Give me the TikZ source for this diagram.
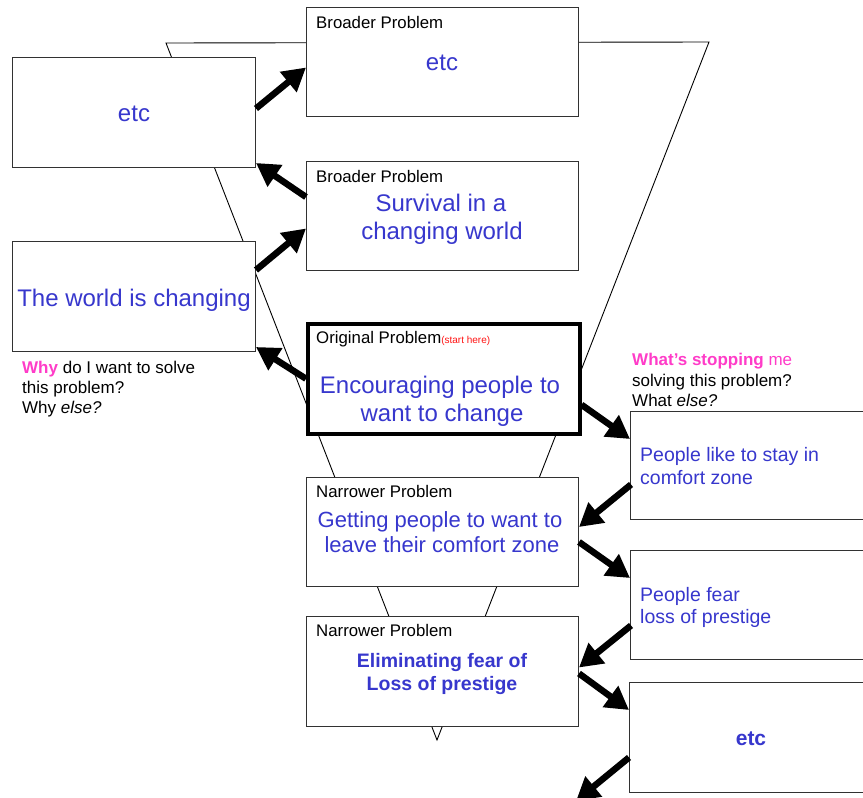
\documentclass[tikz,border=0pt]{standalone}
\usepackage{fontspec}
\setmainfont{Liberation Sans}
\usetikzlibrary{arrows.meta}
\definecolor{tblue}{RGB}{55,55,205}
\definecolor{tpink}{RGB}{255,60,200}
\definecolor{tred}{RGB}{255,20,20}
\definecolor{bordergray}{RGB}{50,50,50}
\newcommand\fsz[2]{\fontsize{#1}{#2}\selectfont}
\begin{document}
\begin{tikzpicture}[x=1pt,y=-1pt,
  box/.style={draw=bordergray,fill=white,line width=1pt,anchor=north west,inner sep=0pt,minimum width=272pt,minimum height=110pt},
  sbox/.style={box,minimum width=243pt},
  rbox/.style={box,minimum width=260pt},
  lbl/.style={anchor=base west,inner sep=0pt,font=\fsz{16.8}{19}},
  bigc/.style={anchor=base,inner sep=0pt,text=tblue,font=\fsz{24}{28}},
  midc/.style={anchor=base,inner sep=0pt,text=tblue,font=\fsz{22}{25}},
  boldc/.style={anchor=base,inner sep=0pt,text=tblue,font=\fsz{19.5}{23}\bfseries},
  sidel/.style={anchor=base west,inner sep=0pt,text=tblue,font=\fsz{19.5}{23}},
  note/.style={anchor=base west,inner sep=0pt,font=\fsz{17}{20}},
  arr/.style={-{Triangle[length=23pt,width=25pt]},line width=6.5pt}
]
\useasboundingbox (0,0) rectangle (863,798);
% funnel
\coordinate (fA) at (166,43);
\coordinate (fB) at (709,42);
\coordinate (fC) at (437,740);
\draw[line width=0.9pt] (fA) -- (fB) -- (fC) -- cycle;

% centre column
\node[box,minimum height=109pt] (B1) at (306,7) {};
\node[lbl] (B1l) at (316,28) {Broader Problem};
\node[bigc] (B1t) at (442,70) {etc};

\node[box,minimum height=109pt] (B2) at (306,161) {};
\node[lbl] (B2l) at (316,182) {Broader Problem};
\node[bigc] (B2a) at (441,211) {Survival in a};
\node[bigc] (B2b) at (442,239) {changing world};

\node[box,draw=black,line width=3.5pt] (O) at (306,322) {};
\node[lbl] (Ol) at (316,343) {Original Problem{\color{tred}\fsz{10}{11}(start here)}};
\node[bigc] (Oa) at (440,393) {Encouraging people to};
\node[bigc] (Ob) at (442,421) {want to change};

\node[box,minimum height=109pt] (N1) at (306,477) {};
\node[lbl] (N1l) at (316,497) {Narrower Problem};
\node[midc] (N1a) at (440,527) {Getting people to want to};
\node[midc] (N1b) at (442,552) {leave their comfort zone};

\node[box] (N2) at (306,616) {};
\node[lbl] (N2l) at (316,636) {Narrower Problem};
\node[boldc] (N2a) at (442,667) {Eliminating fear of};
\node[boldc] (N2b) at (442,690) {Loss of prestige};

% left column
\node[sbox] (EL) at (12,57) {};
\node[bigc] (ELt) at (134,121) {etc};
\node[sbox] (W) at (12,241) {};
\node[bigc] (Wt) at (134,306) {The world is changing};
\node[note] (Why1) at (22,373) {{\bfseries\color{tpink}Why} do I want to solve};
\node[note] (Why2) at (22,393) {this problem?};
\node[note] (Why3) at (22,413) {Why \textit{else?}};

% right column
\node[note] (St1) at (632,365) {{\color{tpink}\bfseries What’s stopping} {\color{tpink}me}};
\node[note] (St2) at (632,386) {solving this problem?};
\node[note] (St3) at (632,406) {What \textit{else?}};
\node[rbox,minimum height=108pt] (PL) at (630,411) {};
\node[sidel] (PLa) at (640,461) {People like to stay in};
\node[sidel] (PLb) at (640,484) {comfort zone};
\node[rbox,minimum height=109pt] (PF) at (630,550) {};
\node[sidel] (PFa) at (640,601) {People fear};
\node[sidel] (PFb) at (640,623) {loss of prestige};
\node[rbox] (ER) at (629,682) {};
\node[boldc,font=\fsz{21}{24}\bfseries] (ERt) at (751,745) {etc};
\coordinate (outR) at (576,801);

% arrows
\draw[arr] ([yshift=4pt]EL.east) -- ([yshift=-5.5pt]B1.west);
\draw[arr] ([yshift=19pt]B2.west) -- ([yshift=5pt]EL.south east);
\draw[arr] ([yshift=-29pt]W.north east) -- ([yshift=-12.5pt]B2.west);
\draw[arr] (O.west) -- ([yshift=5pt]W.south east);
\draw[arr] ([yshift=-26pt]O.east) -- ([yshift=-28pt]PL.north west);
\draw[arr] ([xshift=1pt,yshift=-19pt]PL.west) -- ([yshift=5pt]N1.east);
\draw[arr] ([yshift=-10pt]N1.east) -- ([yshift=-28pt]PF.north west);
\draw[arr] ([xshift=1pt,yshift=-20.5pt]PF.west) -- ([yshift=4pt]N2.east);
\draw[arr] ([yshift=-2pt]N2.east) -- ([yshift=-28pt]ER.north west);
\draw[arr] ([yshift=-20pt]ER.west) -- (outR);
\end{tikzpicture}
\end{document}
